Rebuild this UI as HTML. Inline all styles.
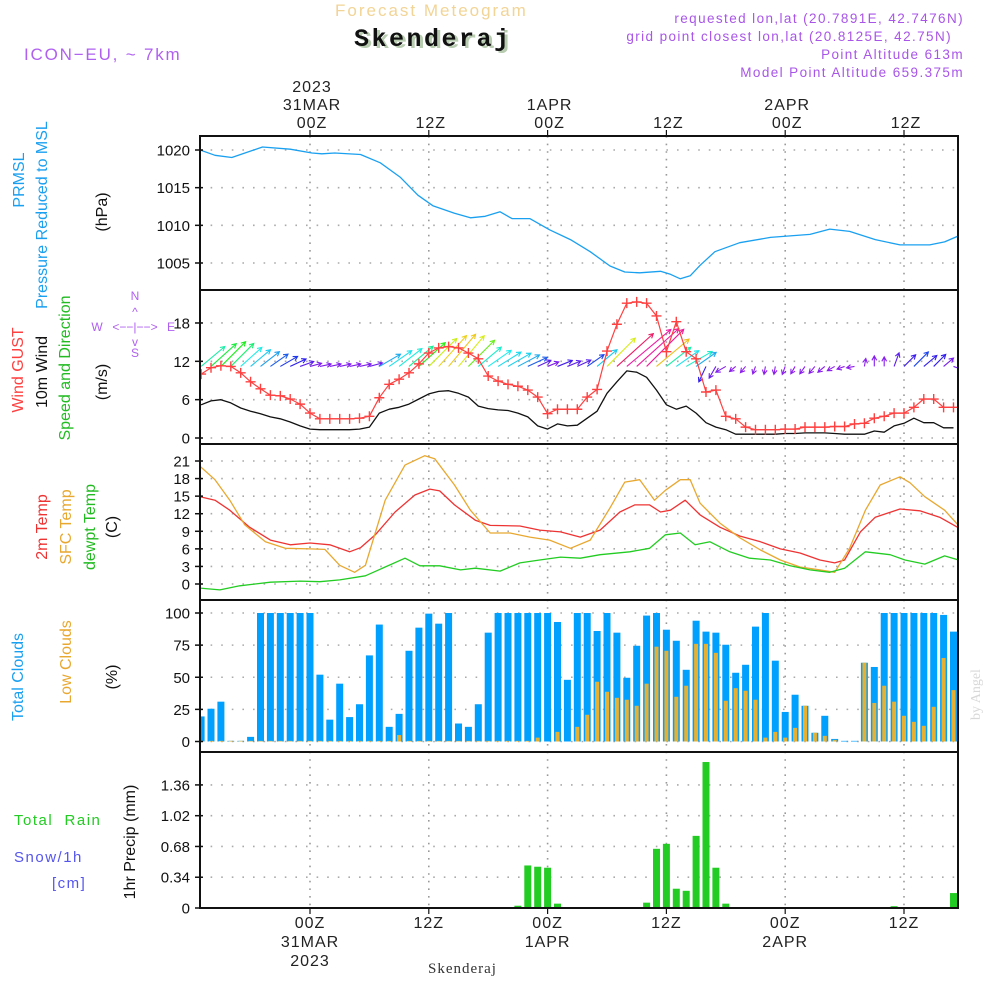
<!DOCTYPE html>
<html><head><meta charset="utf-8"><style>
html,body{margin:0;padding:0;background:#fff;}
svg{display:block;font-family:"Liberation Sans",sans-serif;}
</style></head><body>
<svg id="chart" width="1000" height="1000" viewBox="0 0 1000 1000" xmlns="http://www.w3.org/2000/svg">
<g id="grid"></g>
<g id="marks"></g>
<g id="frames"></g>
<g id="labels">
  <text x="335" y="16" font-size="17" fill="#f2d496" letter-spacing="2">Forecast Meteogram</text>
  <text x="357" y="48" font-size="25" font-weight="bold" font-family="Liberation Mono, monospace" fill="#b8ccb0" letter-spacing="2.5">Skenderaj</text>
  <text x="354" y="46" font-size="25" font-weight="bold" font-family="Liberation Mono, monospace" fill="#111" letter-spacing="2.5">Skenderaj</text>
  <g font-size="13.5" fill="#a855e8" text-anchor="end" letter-spacing="1.4">
    <text x="964" y="23">requested lon,lat (20.7891E, 42.7476N)</text>
    <text x="952" y="41">grid point closest lon,lat (20.8125E, 42.75N)</text>
    <text x="964" y="59">Point Altitude 613m</text>
    <text x="964" y="77">Model Point Altitude 659.375m</text>
  </g>
  <text x="24" y="60" font-size="17" fill="#b060f0" letter-spacing="1.8">ICON−EU, ~ 7km</text>
  <text transform="translate(980,720) rotate(-90)" font-size="14" fill="#d8d8d8" font-family="Liberation Serif, serif">by Angel</text>
  <text x="428" y="973" font-size="15" fill="#333" font-family="Liberation Serif, serif" letter-spacing="1">Skenderaj</text>

  <g font-size="16" text-anchor="middle">
    <text transform="translate(24,180) rotate(-90)" fill="#1aa0f0">PRMSL</text>
    <text transform="translate(47,215) rotate(-90)" fill="#1aa0f0">Pressure Reduced to MSL</text>
    <text transform="translate(107,212) rotate(-90)" fill="#111">(hPa)</text>
    <text transform="translate(23,370) rotate(-90)" fill="#ff4040">Wind GUST</text>
    <text transform="translate(47,372) rotate(-90)" fill="#111">10m Wind</text>
    <text transform="translate(70,368) rotate(-90)" fill="#22bb22">Speed and Direction</text>
    <text transform="translate(107,382) rotate(-90)" fill="#111">(m/s)</text>
    <text transform="translate(47,527) rotate(-90)" fill="#ee3333">2m Temp</text>
    <text transform="translate(71,527) rotate(-90)" fill="#e8a830">SFC Temp</text>
    <text transform="translate(95,527) rotate(-90)" fill="#22bb22">dewpt Temp</text>
    <text transform="translate(117,527) rotate(-90)" fill="#111">(C)</text>
    <text transform="translate(23,677) rotate(-90)" fill="#1aa0f0">Total Clouds</text>
    <text transform="translate(71,662) rotate(-90)" fill="#e8a830">Low Clouds</text>
    <text transform="translate(117,677) rotate(-90)" fill="#111">(%)</text>
    <text transform="translate(135,842) rotate(-90)" fill="#111">1hr Precip (mm)</text>
  </g>
  <g font-size="15" letter-spacing="1.5">
    <text x="14" y="825" fill="#22cc22">Total&#160;&#160;Rain</text>
    <text x="14" y="862" fill="#5555ee">Snow/1h</text>
    <text x="52" y="888" fill="#5555ee">[cm]</text>
  </g>
  <g font-size="12" fill="#b060f0" text-anchor="middle">
    <text x="135" y="300">N</text>
    <text x="135" y="316">^</text>
    <text x="97" y="331">W</text>
    <text x="135" y="331">&lt;−−|−−&gt;</text>
    <text x="171" y="331">E</text>
    <text x="135" y="346">v</text>
    <text x="135" y="357">S</text>
  </g>
</g>
</svg>
<script>
const hours = []; for (let h = -11; h <= 65; h++) hours.push(h);
const timeTickHours = [0, 12, 24, 36, 48, 60];
const timeTickLabels = ["00Z", "12Z", "00Z", "12Z", "00Z", "12Z"];
const dateLabels = ["31MAR", "", "1APR", "", "2APR", ""];

const pressureHours = [-11.1,-9.6,-7.9,-4.8,-2,0.2,1.2,2.5,5.1,7.1,9.1,10.9,12.4,14.6,16.2,17.7,19.2,20.4,22.2,24.2,26.3,28.3,30.3,31.8,33.3,35.4,36.4,37.4,38.4,39.4,40.9,43.4,46.5,48.5,50.5,52.5,54.5,57.1,59.6,62.6,64.1,65.5];
const pressureValues = [1020,1019.3,1019,1020.4,1020.1,1019.6,1019.5,1019.6,1019.4,1018.3,1016.4,1014,1012.6,1011.6,1011,1011.2,1011.8,1010.9,1010.9,1009.4,1008.1,1006.5,1004.6,1003.8,1003.7,1003.9,1003.5,1002.9,1003.3,1004.7,1006.5,1007.7,1008.4,1008.6,1008.8,1009.5,1009.2,1008.1,1007.4,1007.4,1007.8,1008.6];
const pressureTicks = [1020, 1015, 1010, 1005];

const gustValues = [10.0,11,11.3,11.2,10.2,8.8,7.7,6.7,6.6,6.1,5.3,3.9,3.0,3,3,3,3.1,3.4,6.3,8.4,9.2,10.2,11.6,13.3,14.1,14.3,14.1,13.3,12.4,9.7,8.9,8.4,8.1,7.5,6.4,3.8,4.5,4.5,4.5,6.4,7.6,13.6,17.8,21.1,21.3,21.1,19.1,13.5,18.2,13.5,12.4,7.2,7.5,3.4,3.0,1.7,1.3,1.3,1.3,1.4,1.4,1.7,1.7,1.7,1.8,1.8,2.2,2.3,3.1,3.4,3.9,3.9,4.8,6.1,6.1,4.8,4.8];
const windValues = [5.2,5.8,6.0,5.5,4.7,4.2,3.8,3.3,3.0,2.5,1.9,1.4,1.3,1.3,1.3,1.3,1.4,1.7,3.9,4.5,4.8,5.3,6.1,6.9,7.3,7.4,7.0,6.4,5.0,4.6,4.4,4.3,3.9,3.3,1.9,1.4,2.2,1.9,2.0,3.1,4.2,7.0,8.8,10.5,10.3,9.5,7.5,5.2,4.5,5.0,3.9,2.4,1.7,1.3,0.6,0.6,0.6,0.6,0.6,0.7,0.7,0.8,0.8,0.8,0.7,0.6,0.6,0.6,1.1,0.9,1.9,2.3,3.1,2.4,2.4,1.6,1.6];
const windDirDeg = [40,42,45,45,42,40,38,35,30,25,20,15,12,12,12,12,12,15,30,35,38,40,42,45,48,50,50,45,40,35,32,30,28,25,25,22,22,22,25,35,40,45,42,40,42,45,40,38,35,30,35,-115,-120,-150,-140,-130,-110,-100,-100,-110,-120,-125,-130,-140,-150,-160,-170,80,90,90,70,45,45,40,45,40,-20];
const windTicks = [18, 12, 6, 0];

const t2mHours = [-11.1,-9.6,-8.1,-6.1,-4.0,-2.0,0,2.0,4.0,5.1,6.6,8.6,10.6,12.1,13.1,14.6,16.7,18.2,21.2,23.2,25.3,27.3,29.3,31.3,32.8,34.3,35.4,36.4,37.9,39.4,41.4,43.4,45.5,47.5,49.5,51.5,53.0,54.0,55.6,57.1,59.6,61.6,63.6,65.5];
const t2mValues = [14.9,14.3,12.6,9.7,7.5,6.7,7.0,6.7,5.5,6.2,8.4,12.3,15.2,16.2,15.9,13.5,10.9,10,9.9,9.2,8.9,8.0,9.2,12.3,13.5,13.5,12.3,12.6,14.3,11.8,9.7,8.2,7.2,6.0,5.3,4.1,3.6,4.1,8.9,11.4,12.8,12.5,11.4,9.6];
const sfcHours = [-11.1,-9.6,-8.1,-6.6,-4.5,-2.5,0,1.5,3.0,4.5,5.6,7.6,9.6,11.6,12.6,14.6,16.2,18.2,20.2,22.2,24.2,26.3,28.3,30.3,31.8,33.3,34.8,35.9,37.4,38.4,39.4,41.4,43.4,45.5,47.5,49.5,51.5,53.0,54.5,56.1,57.6,59.6,60.6,62.1,64.1,65.5];
const sfcValues = [20.1,17.8,14.3,10.1,7.2,6.1,6.0,5.9,3.2,2.0,3.2,14.3,20.3,21.9,21.4,16.9,12.6,8.7,8.7,8.0,7.5,6.1,7.5,13.0,17.4,17.8,14.3,16.0,17.8,17.8,13.8,10.4,7.9,5.8,4.1,2.9,2.4,2.0,6.1,12.6,16.9,18.3,17.3,14.9,12.6,10];
const dewHours = [-11.1,-9.1,-7.1,-4.0,-1.0,1.0,3.0,5.6,7.6,9.6,11.1,13.1,15.2,16.7,19.2,21.2,23.2,25.3,27.3,29.3,32.3,34.3,35.9,37.4,38.9,40.4,42.4,44.4,46.5,48.5,50.5,52.5,54.0,56.1,58.6,60.1,62.1,64.1,65.5];
const dewValues = [-0.7,-1,-0.3,0.3,0.5,0.4,0.7,1.4,2.9,4.4,3.1,3.1,2.4,2.7,2.2,3.6,4.1,4.6,4.4,5.0,5.5,6.1,8.4,8.7,6.7,7.2,5.5,4.4,4.1,3.1,2.4,2.0,2.7,5.5,5.0,4.1,3.4,4.8,4.1];
const tempTicks = [21, 18, 15, 12, 9, 6, 3, 0];

const totalClouds = [19.5,25.5,31,0.5,0.5,3.6,100,100,100,100,100,100,52,17,45,19,29,67,91,11.4,21.5,70.6,88.6,99.5,91.7,100,14,11.4,29,84.7,100,100,100,100,100,100,93,48,100,100,86,100,84.7,49.6,74.5,98,100,87,78.4,55.8,94,85.5,84.7,75.3,53.5,59.7,89.4,100,62.9,23,36.4,27.8,6.8,20,2,0.5,0.5,61.3,58,100,100,100,100,100,100,98.5,85.5];
const lowClouds = [0.5,0.5,0.5,0.5,0.5,0.5,0.5,0.5,0.5,0.5,0.5,0.5,0.5,0.5,0.5,0.5,0.5,0.5,0.5,0.5,5,0.5,0.5,0.5,0.5,0.5,0.5,0.5,0.5,0.5,0.5,0.5,0.5,0.5,3,0,7.5,0,11.4,20.8,46.5,38.7,34,32.5,27.8,45,73.8,70.6,34.8,43.4,76,76,69,31.7,41.5,39.5,32.5,3,7.5,3,10.6,27.8,6.8,4.4,1.3,0,0,61.3,30,43.4,31,20,15.3,12.2,27,65,40];
const cloudTicks = [100, 75, 50, 25, 0];

const precipHours = [0,21,22,23,24,25,34,35,36,37,38,39,40,41,42,57,59,60,64,65];
const precipValues = [0.01,0.025,0.47,0.456,0.445,0.048,0.059,0.654,0.709,0.213,0.19,0.797,1.613,0.445,0.048,0.01,0.02,0.01,0.01,0.165];
const precipTicks = [1.36, 1.02, 0.68, 0.34, 0];
const precipTickLabels = ["1.36", "1.02", "0.68", "0.34", "0"];

const XL = 200, XR = 958;
const xOf = h => 310 + h * 9.9;
const yP = v => 150 + (1020 - v) * 7.533;
const yW = v => 438 - v * 6.39;
const yT = v => 584 - v * 5.857;
const yC = v => 741.5 - v * 1.285;
const yR = v => 908 - v * 90.5;
const panels = [[136, 290], [290, 444], [444, 600], [600, 752], [752, 908]];

const NS = "http://www.w3.org/2000/svg";
function mk(tag, attrs, parent) {
  const e = document.createElementNS(NS, tag);
  for (const k in attrs) e.setAttribute(k, attrs[k]);
  parent.appendChild(e);
  return e;
}
const grid = document.getElementById("grid");
const marks = document.getElementById("marks");
const frames = document.getElementById("frames");
const labels = document.getElementById("labels");
const clip = mk("clipPath", {id: "plotclip"}, document.getElementById("chart"));
mk("rect", {x: XL, y: 136, width: XR - XL, height: 772}, clip);
marks.setAttribute("clip-path", "url(#plotclip)");

timeTickHours.forEach(h => {
  const l = mk("line", {x1: xOf(h), x2: xOf(h), y1: 136, y2: 908, stroke: "#999", "stroke-width": 1.6, "stroke-dasharray": "1.6,6"}, grid);
  
  
});

function yAxis(ticks, yf, tlabels, name) {
  ticks.forEach((v, i) => {
    const y = yf(v);
    const g = mk("line", {x1: XL, x2: XR, y1: y, y2: y, stroke: "#aaa", "stroke-width": 1.6, "stroke-dasharray": "1.6,9"}, grid);
    
    
    mk("line", {x1: XL - 5, x2: XL + 3, y1: y, y2: y, stroke: "#111", "stroke-width": 1.5}, frames);
    const t = mk("text", {x: 190, y: y + 5.5, "text-anchor": "end", "font-size": 15, fill: "#111"}, labels);
    t.textContent = tlabels ? tlabels[i] : String(v);
    
    
  });
}
yAxis(pressureTicks, yP, null, "pressure");
yAxis(windTicks, yW, null, "wind");
yAxis(tempTicks, yT, null, "temp");
yAxis(cloudTicks, yC, null, "cloud");
yAxis(precipTicks, yR, precipTickLabels, "precip");

panels.forEach(([a, b], i) => {
  const r = mk("rect", {x: XL, y: a, width: XR - XL, height: b - a, fill: "none", stroke: "#111", "stroke-width": 2}, frames);
  
  
});

timeTickHours.forEach((h, i) => {
  const x = xOf(h);
  mk("line", {x1: x, x2: x, y1: 130, y2: 136, stroke: "#111", "stroke-width": 1.2}, frames);
  mk("line", {x1: x, x2: x, y1: 908, y2: 914, stroke: "#111", "stroke-width": 1.2}, frames);
  const tt = mk("text", {x: x + 2, y: 128, "text-anchor": "middle", "font-size": 16, fill: "#222", "letter-spacing": 1}, labels);
  tt.textContent = timeTickLabels[i];
  
  
  const bt = mk("text", {x: x, y: 928, "text-anchor": "middle", "font-size": 16, fill: "#222", "letter-spacing": 1}, labels);
  bt.textContent = timeTickLabels[i];
  
  
  if (dateLabels[i]) {
    const d1 = mk("text", {x: x + 2, y: 110, "text-anchor": "middle", "font-size": 16, fill: "#222", "letter-spacing": 1}, labels);
    d1.textContent = dateLabels[i];
    
    
    const d2 = mk("text", {x: x, y: 947, "text-anchor": "middle", "font-size": 16, fill: "#222", "letter-spacing": 1}, labels);
    d2.textContent = dateLabels[i];
    
    
  }
  if (i === 0) {
    const y1 = mk("text", {x: x + 2, y: 92, "text-anchor": "middle", "font-size": 16, fill: "#222", "letter-spacing": 1}, labels);
    y1.textContent = "2023";
    
    
    const y2 = mk("text", {x: x, y: 966, "text-anchor": "middle", "font-size": 16, fill: "#222", "letter-spacing": 1}, labels);
    y2.textContent = "2023";
    
    
  }
});

function line(hs, vs, yf, color, name, w) {
  const d = hs.map((h, i) => (i ? "L" : "M") + xOf(h).toFixed(1) + "," + yf(vs[i]).toFixed(1)).join("");
  const p = mk("path", {d: d, fill: "none", stroke: color, "stroke-width": w || 1.3, "stroke-linejoin": "round"}, marks);
  
  
  return p;
}

line(pressureHours, pressureValues, yP, "#1aa0f0", "pressure-line");

const cStops = [[0, 275], [1.5, 268], [3, 232], [4, 195], [5, 170], [6, 120], [6.8, 75], [7.3, 52], [8, 36], [9, 325], [11, 320]];
function windColor(s) {
  let hue = cStops[cStops.length - 1][1];
  for (let i = 0; i < cStops.length - 1; i++) {
    if (s >= cStops[i][0] && s <= cStops[i + 1][0]) {
      const t = (s - cStops[i][0]) / (cStops[i + 1][0] - cStops[i][0]);
      let a = cStops[i][1], b = cStops[i + 1][1];
      if (b > 300 && a < 100) b -= 360;
      hue = a + (b - a) * t; if (hue < 0) hue += 360; break;
    }
  }
  return "hsl(" + hue.toFixed(0) + ",85%,52%)";
}
hours.forEach((h, i) => {
  const s = windValues[i];
  const len = 5 * s + 5;
  const a = windDirDeg[i] * Math.PI / 180;
  const x0 = xOf(h), y0 = yW(11.2);
  const x1 = x0 + len * Math.cos(a), y1 = y0 - len * Math.sin(a);
  const col = windColor(s);
  const hl = 5, ha = 0.5;
  const b1x = x1 - hl * Math.cos(a - ha), b1y = y1 + hl * Math.sin(a - ha);
  const b2x = x1 - hl * Math.cos(a + ha), b2y = y1 + hl * Math.sin(a + ha);
  const p = mk("path", {d: `M${x0},${y0}L${x1},${y1}M${b1x},${b1y}L${x1},${y1}L${b2x},${b2y}`, stroke: col, "stroke-width": 1.1, fill: "none"}, marks);
  
  
});

line(hours, windValues, yW, "#111", "wind-10m-line");
line(hours, gustValues, yW, "#ff4040", "gust-line", 1.2);
hours.forEach((h, i) => {
  const x = xOf(h), y = yW(gustValues[i]);
  const m = mk("path", {d: `M${x - 5},${y}L${x + 5},${y}M${x},${y - 5}L${x},${y + 5}`, stroke: "#ff4040", "stroke-width": 1.4}, marks);
  
  
});

line(t2mHours, t2mValues, yT, "#ee3333", "t2m-line");
line(sfcHours, sfcValues, yT, "#e8a830", "sfc-temp-line");
line(dewHours, dewValues, yT, "#22cc22", "dewpoint-line");

hours.forEach((h, i) => {
  const x = xOf(h);
  const r = mk("rect", {x: x - 3.5, y: yC(totalClouds[i]), width: 7, height: yC(0) - yC(totalClouds[i]), fill: "#00a0ff"}, marks);
  
  
  if (lowClouds[i] > 0) {
    const l = mk("rect", {x: x - 2, y: yC(lowClouds[i]), width: 4, height: yC(0) - yC(lowClouds[i]), fill: "#e8b030"}, marks);
    
    
  }
});

precipHours.forEach((h, i) => {
  const x = xOf(h);
  const r = mk("rect", {x: x - 3.5, y: yR(precipValues[i]), width: 7, height: yR(0) - yR(precipValues[i]), fill: "#22cc22"}, marks);
  
  
});
</script>
</body></html>
